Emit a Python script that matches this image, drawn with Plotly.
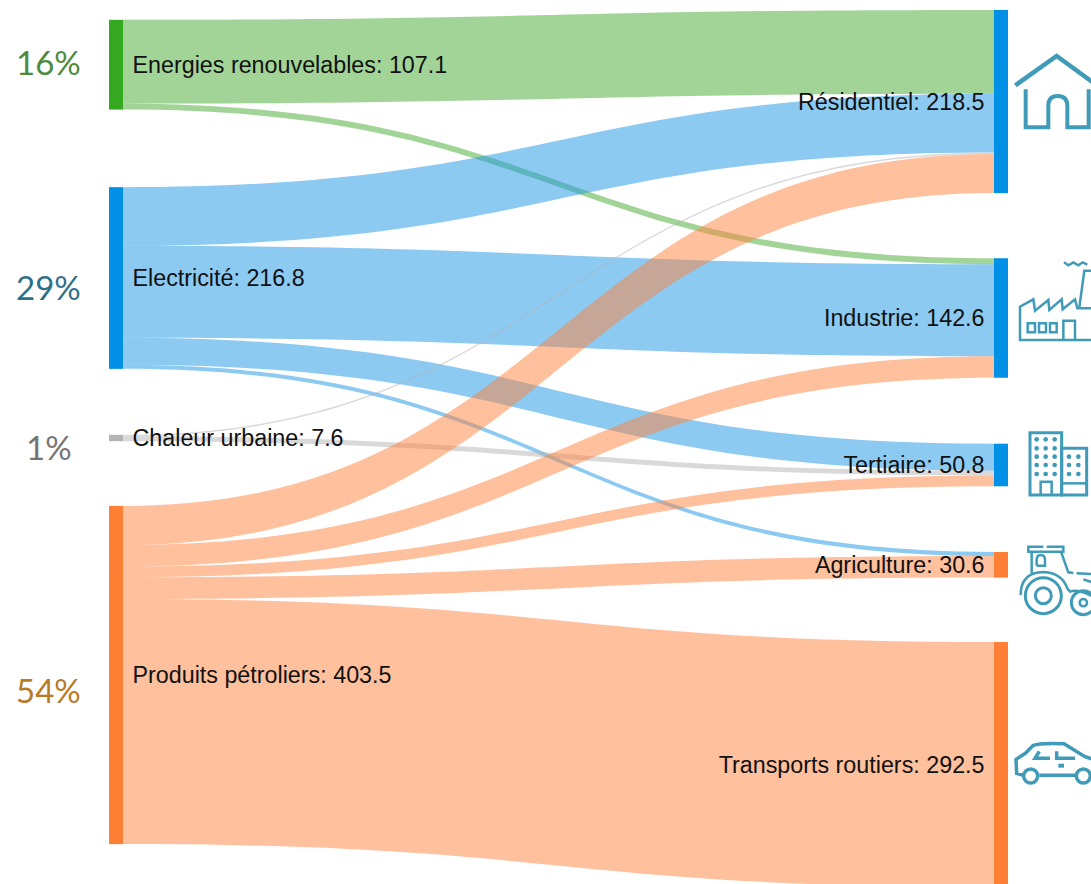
import plotly.graph_objects as go

# ---- data ----
node_labels = ["Energies renouvelables: 107.1", "Electricité: 216.8", "Chaleur urbaine: 7.6",
               "Produits pétroliers: 403.5", "Résidentiel: 218.5", "Industrie: 142.6",
               "Tertiaire: 50.8", "Agriculture: 30.6", "Transports routiers: 292.5"]
node_colors = ["#34a81f", "#0090e6", "#b4b4b4", "#ff8035", "#0090e6", "#0090e6", "#0090e6", "#ff8035", "#ff8035"]
link_sources = [0, 0, 1, 1, 1, 1, 2, 2, 3, 3, 3, 3, 3]
link_targets = [4, 5, 4, 5, 6, 7, 4, 6, 4, 5, 6, 7, 8]
link_values = [100.0, 7.1, 70.0, 109.8, 32.2, 4.8, 1.8, 5.8, 46.7, 25.7, 12.8, 25.8, 292.5]
link_colors = {0: "rgba(70,170,50,0.5)", 1: "rgba(25,150,230,0.5)", 2: "rgba(180,180,180,0.5)", 3: "rgba(255,130,60,0.5)"}
pct_labels = ["16%", "29%", "1%", "54%"]
pct_colors = ["#4e8a3e", "#2f7089", "#757575", "#b97a26"]

# ---- layout constants (pixels) ----
W, H = 1091, 884
node_x_px = [116, 116, 116, 116, 1001, 1001, 1001, 1001, 1001]
node_y_px = [64.7, 278, 438, 675, 101.5, 318, 465, 564.8, 764.6]
pct_pos = [(48.5, 62), (48.5, 287), (48.5, 447), (48.5, 690)]
ICON = "#3f9bb8"
NBSP = "\u00a0"


def X(v):
    return v / W


def Y(v):
    return 1 - v / H


shapes = []


def path(pts, ox, oy, closed=False, fill=None, lw=3):
    """pts: list of (x, y) in 3x zoomed icon coordinates, or ('Q', cx, cy, x, y)."""
    d = ""
    for i, p in enumerate(pts):
        if p[0] == "Q":
            d += f"Q{X(ox + p[1] / 3):.5f},{Y(oy + p[2] / 3):.5f} {X(ox + p[3] / 3):.5f},{Y(oy + p[4] / 3):.5f}"
        else:
            d += ("M" if i == 0 else "L") + f"{X(ox + p[0] / 3):.5f},{Y(oy + p[1] / 3):.5f}"
    if closed:
        d += "Z"
    s = dict(type="path", xref="paper", yref="paper", path=d, line=dict(color=ICON, width=lw))
    if fill:
        s["fillcolor"] = fill
    shapes.append(s)


def circle(cx, cy, r, ox, oy, lw=2.5, fill=None):
    s = dict(type="circle", xref="paper", yref="paper",
             x0=X(ox + (cx - r) / 3), x1=X(ox + (cx + r) / 3),
             y0=Y(oy + (cy - r) / 3), y1=Y(oy + (cy + r) / 3),
             line=dict(color=ICON, width=lw))
    if fill:
        s["fillcolor"] = fill
    shapes.append(s)


# house
ox, oy = 990, 30
path([(76, 166), (200, 78), (310, 158)], ox, oy, lw=4.5)
path([(107, 178), (107, 292), (175, 292), (175, 228), ("Q", 175, 198, 203, 198), ("Q", 232, 198, 232, 228),
      (232, 292), (296, 292), (296, 178)], ox, oy, lw=4)
# factory
path([(310, 930), (90, 930), (90, 830), (130, 808), (135, 842), (175, 810), (178, 840), (215, 808), (218, 838),
      (255, 808), (262, 835), (310, 835)], ox, oy, lw=2.5)
path([(268, 832), (283, 722), (310, 722)], ox, oy, lw=2.5)
path([(222, 697), (235, 706), (250, 697), (265, 706), (278, 697), (292, 704)], ox, oy, lw=2.5)
for a, b in [(113, 135), (147, 168), (180, 200)]:
    path([(a, 880), (b, 880), (b, 907), (a, 907)], ox, oy, closed=True, lw=2.5)
path([(220, 930), (220, 872), (255, 872), (255, 930)], ox, oy, lw=2.5)

# building
ox, oy = 990, 420
path([(120, 38), (215, 38), (215, 225), (120, 225)], ox, oy, closed=True, lw=3)
path([(215, 85), (290, 85), (290, 225), (215, 225)], ox, oy, closed=True, lw=3)
path([(152, 225), (152, 185), (185, 185), (185, 225)], ox, oy, lw=2.5)
path([(215, 190), (290, 190)], ox, oy, lw=2.5)
for cx in (140, 167, 194):
    for cy in (58, 85, 110, 135, 162):
        circle(cx, cy, 7, ox, oy, lw=0, fill=ICON)
for cx in (237, 265):
    for cy in (110, 135, 162):
        circle(cx, cy, 7, ox, oy, lw=0, fill=ICON)

# tractor
path([(160, 380), (115, 380), (115, 395), (220, 395), (220, 380), (170, 380)], ox, oy, lw=2.5)
path([(125, 395), (125, 460)], ox, oy, lw=2.5)
path([(213, 395), (235, 457), (250, 459)], ox, oy, lw=2.5)
path([(140, 437), (140, 420), ("Q", 140, 405, 152, 405), ("Q", 165, 405, 165, 420), (165, 437), (140, 437)], ox, oy, lw=2.5)
path([(92, 525), ("Q", 92, 458, 160, 456), ("Q", 215, 458, 232, 505), (240, 515), ("Q", 262, 505, 310, 530)], ox, oy, lw=2.5)
path([(260, 460), (310, 462)], ox, oy, lw=2.5)
path([(280, 478), (310, 488)], ox, oy, lw=2.5)
circle(160, 527, 54, ox, oy, lw=3)
circle(160, 527, 24, ox, oy, lw=3)
circle(280, 548, 36, ox, oy, lw=3)
circle(280, 548, 11, ox, oy, lw=2.5)

# car
path([(100, 1066), (80, 1060), (78, 1018), (106, 1000), (130, 976), ("Q", 150, 968, 222, 971), (285, 1010), (315, 1020)],
     ox, oy, lw=3.5)
path([(148, 1066), (256, 1066)], ox, oy, lw=3.5)
path([(305, 1066), (315, 1066)], ox, oy, lw=3.5)
circle(122, 1068, 21, ox, oy, lw=3.5)
circle(280, 1068, 21, ox, oy, lw=3.5)
path([(148, 994), (135, 1015), (180, 1015)], ox, oy, lw=3.5)
path([(200, 994), (200, 1015), (255, 1015)], ox, oy, lw=3.5)
path([(205, 1037), (222, 1037)], ox, oy, lw=4)

# left-column labels get a leading no-break space, right-column ones a trailing one, to open the gap from the node
display_labels = [(NBSP + t) if i < 4 else (t + NBSP) for i, t in enumerate(node_labels)]

fig = go.Figure(go.Sankey(
    arrangement="fixed",
    domain=dict(x=[0, 1], y=[0, 1]),
    hoverinfo="none",
    node=dict(
        label=display_labels,
        color=node_colors,
        thickness=14,
        pad=67,
        x=[X(v) for v in node_x_px],
        y=[v / H for v in node_y_px],
        line=dict(width=0),
    ),
    link=dict(
        source=link_sources,
        target=link_targets,
        value=link_values,
        color=[link_colors[s] for s in link_sources],
        line=dict(width=0),
    ),
    textfont=dict(family="Liberation Sans", size=23.3, color="#111111", shadow="none"),
))

annotations = [
    dict(text=t, x=X(p[0]), y=Y(p[1]), xref="paper", yref="paper", showarrow=False, xanchor="center", yanchor="middle",
         font=dict(family="Lato", size=33, color=c))
    for t, c, p in zip(pct_labels, pct_colors, pct_pos)
]

fig.update_layout(width=W, height=H, margin=dict(l=0, r=0, t=0, b=0), paper_bgcolor="white",
                  shapes=shapes, annotations=annotations, showlegend=False)
fig.write_html("out.html", config=dict(displayModeBar=False),
               post_script="document.body.style.margin='0';document.body.style.overflow='hidden';")
